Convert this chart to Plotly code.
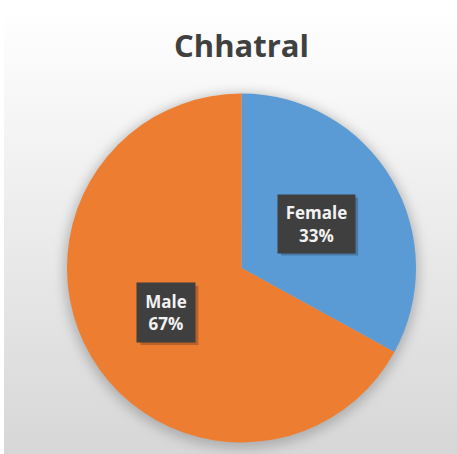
import base64, math
import plotly.graph_objects as go

# ---- data ----
title_text = "Chhatral"
labels = ["Female", "Male"]
values = [33, 67]
colors = ["#5B9BD5", "#ED7D31"]

W, H = 457, 454
dom_x = [67 / W, 416 / W]
dom_y = [1 - 442.5 / H, 1 - 93.5 / H]

cx = (dom_x[0] + dom_x[1]) / 2 * W
cy = (1 - (dom_y[0] + dom_y[1]) / 2) * H
R = min((dom_x[1] - dom_x[0]) * W, (dom_y[1] - dom_y[0]) * H) / 2

# background: vertical gradient + soft pie shadow (SVG image)
svg = f'''<svg xmlns="http://www.w3.org/2000/svg" width="{W}" height="{H}" viewBox="0 0 {W} {H}">
<defs>
<linearGradient id="g" x1="0" y1="0" x2="0" y2="1">
<stop offset="0" stop-color="#ffffff"/>
<stop offset="1" stop-color="#d7d7d7"/>
</linearGradient>
<filter id="b" x="-20%" y="-20%" width="140%" height="140%"><feGaussianBlur stdDeviation="6"/></filter>
</defs>
<rect x="0" y="0" width="{W}" height="{H}" fill="#ffffff"/>
<rect x="4" y="9" width="{W-4}" height="{H-9}" fill="url(#g)"/>
<circle cx="{cx:.1f}" cy="{cy+3:.1f}" r="{R+3:.1f}" fill="#8a8a8a" opacity="0.55" filter="url(#b)"/>
</svg>'''
bg_src = "data:image/svg+xml;base64," + base64.b64encode(svg.encode()).decode()

fig = go.Figure()
fig.add_trace(go.Pie(
    labels=labels, values=values, sort=False, direction="clockwise", rotation=0,
    marker=dict(colors=colors, line=dict(width=0)),
    textinfo="none", hoverinfo="label+percent", showlegend=False,
    domain=dict(x=dom_x, y=dom_y),
))

box_sizes = {"Female": (61, 42), "Male": (42, 43)}
PAD = 8

annotations = []
shapes = []
total = sum(values)
cum = 0
for lab, v in zip(labels, values):
    mid = (cum + v / 2) / total
    cum += v
    th = 2 * math.pi * mid
    px = cx + 0.5 * R * math.sin(th)
    py = cy - 0.5 * R * math.cos(th)
    pct = round(100 * v / total)
    bw, bh = box_sizes[lab]
    hw, hh = bw / 2 + PAD, bh / 2 + PAD
    # drop shadow of the label box
    shapes.append(dict(
        type="rect", xref="paper", yref="paper", xsizemode="pixel", ysizemode="pixel",
        xanchor=px / W, yanchor=1 - py / H,
        x0=-hw + 3, x1=hw + 3, y0=-hh - 3, y1=hh - 3,
        fillcolor="rgba(0,0,0,0.22)", line=dict(width=0), layer="above",
    ))
    annotations.append(dict(
        x=px / W, y=1 - py / H, xref="paper", yref="paper", showarrow=False,
        xanchor="center", yanchor="middle",
        text=f"<b>{lab}</b><br><b>{pct}%</b>",
        font=dict(family="Open Sans", size=17, color="#f2f2f2"),
        bgcolor="#3f3f3f", borderpad=PAD, width=bw, height=bh,
    ))

annotations.append(dict(
    x=cx / W, y=1 - 45.5 / H, xref="paper", yref="paper", showarrow=False,
    text=f"<b>{title_text}</b>", xanchor="center", yanchor="middle",
    font=dict(family="Open Sans", size=31, color="#404040"),
))

fig.update_layout(
    width=W, height=H, autosize=False,
    margin=dict(l=0, r=0, t=0, b=0),
    paper_bgcolor="#ffffff", plot_bgcolor="rgba(0,0,0,0)",
    images=[dict(source=bg_src, xref="paper", yref="paper", x=0, y=1, sizex=1, sizey=1,
                 xanchor="left", yanchor="top", sizing="stretch", layer="below")],
    annotations=annotations,
    shapes=shapes,
)

fig.write_html("out.html", config={"displayModeBar": False},
               post_script="document.body.style.margin='0';")
